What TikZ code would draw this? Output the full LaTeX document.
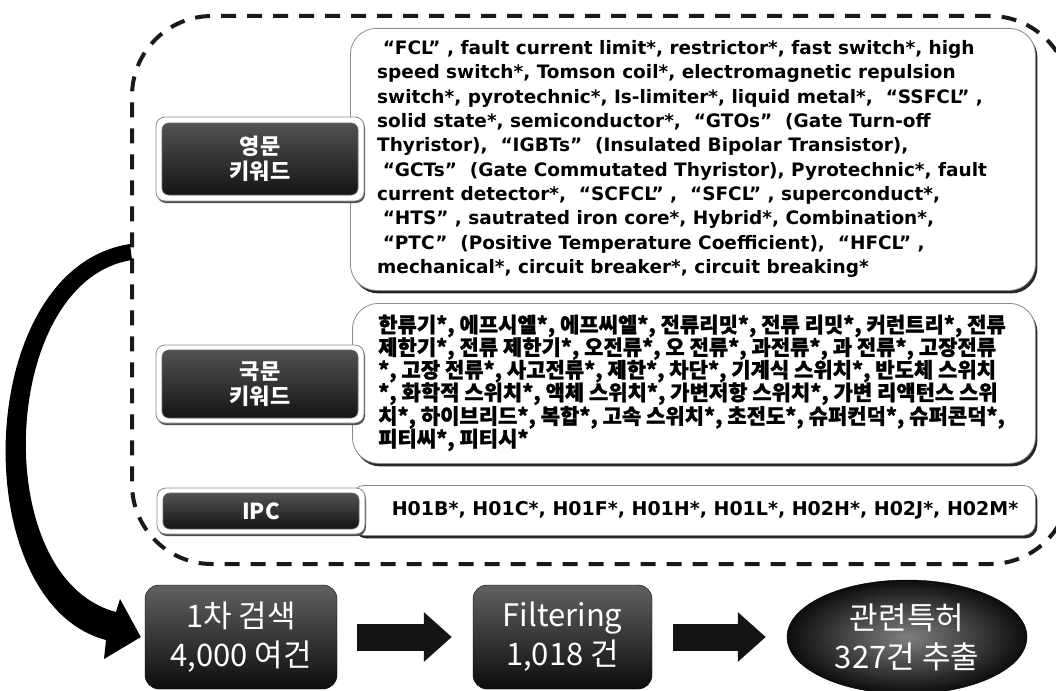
\documentclass[tikz,border=0pt]{standalone}
\usepackage{fontspec}
\setmainfont{Noto Sans CJK KR}
\newfontfamily\dvs{DejaVu Sans}
\newfontfamily\krheavy{Noto Sans CJK KR}[BoldFeatures={FakeBold=1.2}]
\usetikzlibrary{shapes.geometric,shadows,arrows.meta}
\begin{document}
\begin{tikzpicture}[x=1pt,y=-1pt,
  frameline/.style={draw=black!90, line width=4pt, dash pattern=on 15pt off 11pt, rounded corners=80pt, anchor=north west, inner sep=0},
  txtbox/.style={draw=black!45, line width=0.8pt, fill=white, rounded corners=26pt, drop shadow={shadow xshift=2pt,shadow yshift=-3pt,opacity=1,fill=black!85}, anchor=north west, inner sep=0},
  lframe/.style={draw=black!45, line width=0.8pt, fill=white, rounded corners=9pt, drop shadow={shadow xshift=1pt,shadow yshift=-2pt,opacity=1,fill=black!70}, inner sep=0},
  lbox/.style={draw=black!60, line width=0.6pt, top color=black!68, bottom color=black!92, rounded corners=7pt, text=white, font=\bfseries\fontsize{22}{25}\selectfont, align=center, inner sep=0},
  stepbox/.style={rounded corners=14pt, top color=black!62, bottom color=black!95, draw=black, text=white, font=\fontsize{31}{39}\selectfont, align=center, inner sep=0},
  kwtext/.style={anchor=west, align=left, inner sep=0, font=\dvs\bfseries\fontsize{18.5}{24.3}\selectfont},
  blockarrow/.style={line width=27pt, -{Triangle[length=28pt,width=48pt]}, black!92},
  bigarrow/.style={fill=black},
]
\useasboundingbox (0,0) rectangle (1056,690);
% dashed outer frame
\node[frameline, minimum width=938pt, minimum height=548pt] (frame) at (130,14) {};
% keyword text boxes
\node[txtbox, minimum width=685pt, minimum height=262pt] (enbox) at (350,28) {};
\node[txtbox, minimum width=683pt, minimum height=160pt] (krbox) at (352,303) {};
\node[txtbox, rounded corners=12pt, minimum width=683pt, minimum height=50pt] (ipcbox) at (352,485) {};
% labels
\node[lframe, minimum width=208pt, minimum height=84pt] (enframe) at (260,159) {};
\node[lbox, minimum width=196pt, minimum height=72pt] (enlabel) at (260,159) {영문\\키워드};
\node[lframe, minimum width=208pt, minimum height=78pt] (krframe) at (260,384) {};
\node[lbox, minimum width=196pt, minimum height=68pt] (krlabel) at (260,384) {국문\\키워드};
\node[lframe, minimum width=208pt, minimum height=46pt] (ipcframe) at (261,511) {};
\node[lbox, minimum width=196pt, minimum height=36pt] (ipclabel) at (261,511) {IPC};
% keyword texts
\node[kwtext] (entext) at (377,159) {\hspace{0.3em}“FCL” , fault current limit*, restrictor*, fast switch*, high\\
speed switch*, Tomson coil*, electromagnetic repulsion\\
switch*, pyrotechnic*, Is-limiter*, liquid metal*, \ “SSFCL” ,\\
solid state*, semiconductor*, \ “GTOs” \ (Gate Turn-off\\
Thyristor), \ “IGBTs” \ (Insulated Bipolar Transistor),\\
\hspace{0.3em}“GCTs” \ (Gate Commutated Thyristor), Pyrotechnic*, fault\\
current detector*, \ “SCFCL” , \ “SFCL” , superconduct*,\\
\hspace{0.3em}“HTS” , sautrated iron core*, Hybrid*, Combination*,\\
\hspace{0.3em}“PTC” \ (Positive Temperature Coefficient), \ “HFCL” ,\\
mechanical*, circuit breaker*, circuit breaking*};
\node[kwtext, font=\krheavy\bfseries\fontsize{21}{22.6}\selectfont] (krtext) at (378,383) {한류기*, 에프시엘*, 에프씨엘*, 전류리밋*, 전류 리밋*, 커런트리*, 전류\\
제한기*, 전류 제한기*, 오전류*, 오 전류*, 과전류*, 과 전류*, 고장전류\\
*, 고장 전류*, 사고전류*, 제한*, 차단*, 기계식 스위치*, 반도체 스위치\\
*, 화학적 스위치*, 액체 스위치*, 가변저항 스위치*, 가변 리액턴스 스위\\
치*, 하이브리드*, 복합*, 고속 스위치*, 초전도*, 슈퍼컨덕*, 슈퍼콘덕*,\\
피티씨*, 피티시*};
\node[inner sep=0, font=\dvs\bfseries\fontsize{19}{20}\selectfont] (ipctext) at (705,510) {H01B*, H01C*, H01F*, H01H*, H01L*, H02H*, H02J*, H02M*};
% bottom process row
\node[stepbox, minimum width=192pt, minimum height=104pt] (s1) at (241,637) {1차 검색\\4,000 여건};
\node[stepbox, minimum width=179pt, minimum height=104pt] (s2) at (562.5,637) {Filtering\\1,018 건};
\node[ellipse, inner sep=0, minimum width=240pt, minimum height=114pt, inner color=black!50, outer color=black!95, draw=black, text=white, font=\fontsize{31}{39}\selectfont, align=center] (s3) at (907,637) {관련특허\\327건 추출};
\draw[blockarrow, shorten <=20pt, shorten >=21pt] (s1) -- (s2);
\draw[blockarrow, shorten <=21pt, shorten >=21pt] (s2) -- (s3);
% tapered curved arrow from the keyword frame to the first search
\coordinate (tail) at (131,252);
\coordinate (tip) at ([xshift=-4pt]s1.west);
\path[bigarrow] (130,244) .. controls (-28,268) and (-35,603) .. (106,640)
  -- (104,659) -- (tip) -- (120,599) -- (116,612)
  .. controls (-13,578) and (0,280) .. (132,260) -- cycle;
\end{tikzpicture}
\end{document}
